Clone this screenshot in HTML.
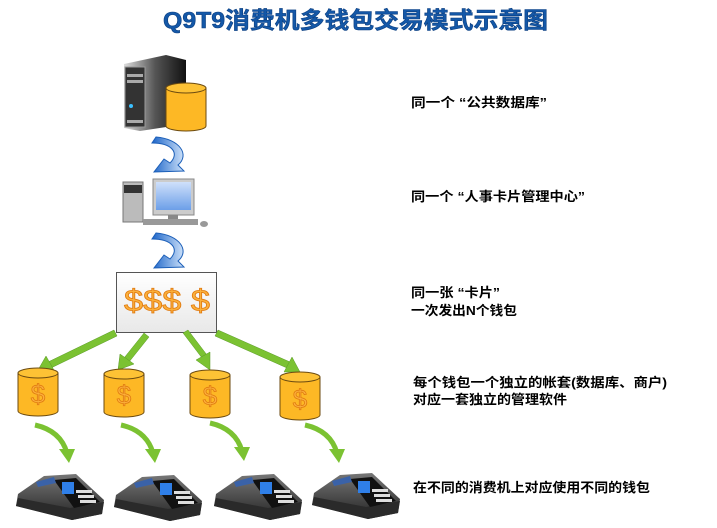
<!DOCTYPE html>
<html><head><meta charset="utf-8"><style>
body{margin:0;background:#fff}
svg{display:block}
.t{font-family:"Liberation Sans","Noto Sans CJK SC",sans-serif;font-size:13px;font-weight:bold;fill:#000}
</style></head><body>
<svg width="717" height="528" viewBox="0 0 717 528">
<defs>
<linearGradient id="tw" x1="0" x2="1"><stop offset="0" stop-color="#ddd"/><stop offset=".5" stop-color="#555"/><stop offset="1" stop-color="#111"/></linearGradient>
<linearGradient id="bx" x1="0" y1="0" x2="0" y2="1"><stop offset="0" stop-color="#fff"/><stop offset="1" stop-color="#e8e8e8"/></linearGradient>
<linearGradient id="bl" x1="0" x2="1"><stop offset="0" stop-color="#1c64c8"/><stop offset="1" stop-color="#cfe3fa"/></linearGradient>
<linearGradient id="mon" x1="0" y1="0" x2="0" y2="1"><stop offset="0" stop-color="#cfe0fb"/><stop offset="1" stop-color="#6c9fe8"/></linearGradient>
<linearGradient id="dv" x1="0" y1="0" x2="0" y2="1"><stop offset="0" stop-color="#777"/><stop offset="1" stop-color="#222"/></linearGradient>
<g id="cyl">
<path d="M0 6 V44 A20 5 0 0 0 40 44 V6" fill="#fdb825" stroke="#6b4a10" stroke-width="1"/>
<ellipse cx="20" cy="6" rx="20" ry="5" fill="#fdc235" stroke="#6b4a10" stroke-width="1"/>
</g>
<g id="cur"><path d="M0 0 C18 4 28 14 32 28" fill="none" stroke="#7bc232" stroke-width="5"/><path d="M24 24 L40 24 L34 38 Z" fill="#7bc232"/></g>
<g id="barr"><path d="M6 0 C30 2 40 18 28 28 L34 34 L4 35 L14 22 L20 26 C30 16 22 6 2 6 Z" fill="url(#bl)" stroke="#1c5fb8" stroke-width="1"/></g>
<g id="dev">
<path d="M4 24 L30 6 L62 4 L90 30 L88 44 L58 50 L2 36 Z" fill="url(#dv)"/>
<path d="M4 28 L56 38 L90 32 L88 44 L58 50 L2 36 Z" fill="#2a2a2a"/>
<path d="M40 10 L62 8 L86 32 L60 38 Z" fill="#111"/>
<rect x="48" y="12" width="12" height="12" fill="#2f7fe8"/>
<g fill="#ddd"><rect x="62" y="20" width="16" height="3"/><rect x="64" y="25" width="16" height="3"/><rect x="66" y="30" width="16" height="3"/></g>
<path d="M22 12 L40 7 L42 13 L24 17Z" fill="#3a62a8"/>
</g>
</defs>

<text x="163" y="28" textLength="385" lengthAdjust="spacingAndGlyphs" font-family="Liberation Sans,Noto Sans CJK SC,sans-serif" font-size="23" font-weight="bold" fill="#1458a8" stroke="#0c3f80" stroke-width=".6">Q9T9消费机多钱包交易模式示意图</text>

<!-- server -->
<path d="M124 64 L166 55 L186 60 L186 124 L140 131 L124 128 Z" fill="url(#tw)"/>
<rect x="125" y="67" width="20" height="60" fill="#333" stroke="#999" stroke-width="1"/>
<rect x="127" y="74" width="16" height="3" fill="#aaa"/><rect x="127" y="80" width="16" height="3" fill="#aaa"/>
<circle cx="131" cy="106" r="2" fill="#3bc0ff"/>
<rect x="127" y="120" width="16" height="3" fill="#aaa"/>
<use href="#cyl" transform="translate(166,82)"/>

<use href="#barr" transform="translate(150,137)"/>

<!-- computer -->
<rect x="123" y="182" width="20" height="40" fill="#bbb" stroke="#777"/>
<rect x="124" y="185" width="18" height="8" fill="#333"/>
<rect x="153" y="179" width="41" height="36" fill="#ccc" stroke="#888"/>
<rect x="156" y="182" width="35" height="28" fill="url(#mon)"/>
<rect x="168" y="215" width="10" height="4" fill="#888"/>
<rect x="143" y="219" width="55" height="6" fill="#999"/>
<ellipse cx="204" cy="224" rx="4" ry="3" fill="#999"/>

<use href="#barr" transform="translate(150,233)"/>

<!-- card box -->
<rect x="116.5" y="272.5" width="100" height="60" fill="url(#bx)" stroke="#555"/>
<text x="124" y="311" textLength="86" lengthAdjust="spacingAndGlyphs" font-family="Liberation Sans,sans-serif" font-size="31" fill="#fbb03b" stroke="#e07a10" stroke-width=".8">$$$ $</text>

<!-- green arrows -->
<g fill="#7bc232" stroke="#5a9a28" stroke-width=".5">
<path d="M114 330 L48 362 L51 368 L117 336 Z"/><path d="M38 370 L46 356 L55 372 Z"/>
<path d="M144 333 L124 358 L129 362 L149 337 Z"/><path d="M118 370 L120 354 L134 364 Z"/>
<path d="M183 333 L202 358 L207 355 L188 330 Z"/><path d="M210 370 L196 360 L210 352 Z"/>
<path d="M218 330 L290 362 L287 368 L215 336 Z"/><path d="M300 372 L284 372 L292 357 Z"/>
</g>

<use href="#cyl" transform="translate(18,367)"/>
<use href="#cyl" transform="translate(104,368)"/>
<use href="#cyl" transform="translate(190,369)"/>
<use href="#cyl" transform="translate(280,371)"/>
<g font-family="Liberation Sans,sans-serif" font-size="26" fill="#fbb03b" stroke="#e07a10" stroke-width=".8" text-anchor="middle">
<text x="38" y="403">$</text><text x="124" y="404">$</text><text x="210" y="405">$</text><text x="300" y="408">$</text>
</g>

<use href="#cur" transform="translate(35,425)"/>
<use href="#cur" transform="translate(121,425)"/>
<use href="#cur" transform="translate(210,423)"/>
<use href="#cur" transform="translate(305,425)"/>

<use href="#dev" transform="translate(14,470)"/>
<use href="#dev" transform="translate(112,471)"/>
<use href="#dev" transform="translate(212,470)"/>
<use href="#dev" transform="translate(310,469)"/>

<text class="t" x="411" y="107" textLength="136" lengthAdjust="spacingAndGlyphs">同一个 “公共数据库”</text>
<text class="t" x="411" y="201" textLength="174" lengthAdjust="spacingAndGlyphs">同一个 “人事卡片管理中心”</text>
<text class="t" x="411" y="297" textLength="89" lengthAdjust="spacingAndGlyphs">同一张 “卡片”</text>
<text class="t" x="411" y="315" textLength="106" lengthAdjust="spacingAndGlyphs">一次发出N个钱包</text>
<text class="t" x="413" y="387" textLength="254" lengthAdjust="spacingAndGlyphs">每个钱包一个独立的帐套(数据库、商户)</text>
<text class="t" x="413" y="404" textLength="154" lengthAdjust="spacingAndGlyphs">对应一套独立的管理软件</text>
<text class="t" x="413" y="492" textLength="237" lengthAdjust="spacingAndGlyphs">在不同的消费机上对应使用不同的钱包</text>
</svg>
</body></html>
